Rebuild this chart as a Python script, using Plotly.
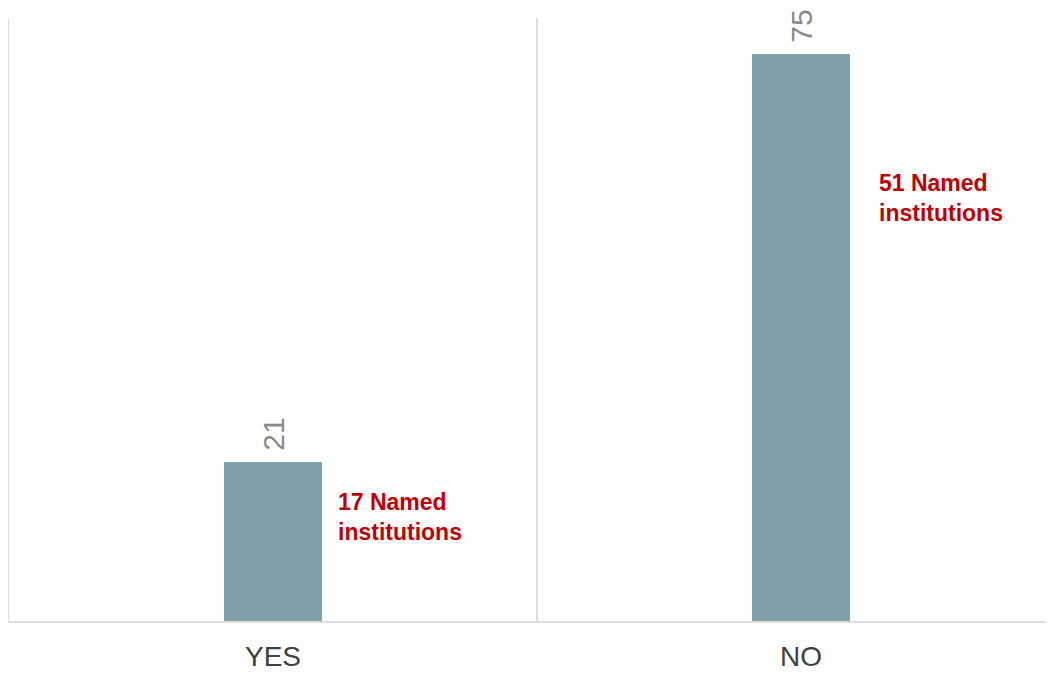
import plotly.graph_objects as go

categories = ["YES", "NO"]
totals = [21, 75]
named = [17, 51]
note_labels = [f"{n} Named<br>institutions" for n in named]

bar_color = "#7FA1AB"
grid_color = "#DDDDDD"

fig = go.Figure()
fig.add_trace(go.Bar(
    x=categories,
    y=totals,
    width=0.184,
    marker=dict(color=bar_color, line=dict(width=0)),
    text=["\u00a0" + str(v) for v in totals],
    textposition="outside",
    textangle=-90,
    textfont=dict(family="Liberation Sans, Arial, sans-serif", size=30, color="#8A8A8A"),
    cliponaxis=False,
    hoverinfo="skip",
))

# red notes beside each bar
note_y = [13.8, 56.0]
note_shift = [63, 76]
for c, lab, yy, xs in zip(categories, note_labels, note_y, note_shift):
    fig.add_annotation(
        x=c, y=yy, text=f"<b>{lab}</b>", showarrow=False,
        xanchor="left", yanchor="middle", align="left", xshift=xs,
        font=dict(family="Liberation Sans, Arial, sans-serif", size=23, color="#C00000"),
    )

# page body has an 8px margin, so the figure is sized/offset to compensate
fig.update_layout(
    width=1046, height=665,
    margin=dict(l=1, r=0, t=10, b=52, autoexpand=False),
    plot_bgcolor="white", paper_bgcolor="white",
    showlegend=False,
    bargap=0,
    xaxis=dict(
        type="category",
        range=[-0.5, 1.479],
        tickson="boundaries",
        automargin=False,
        showgrid=True, gridcolor=grid_color, gridwidth=1.5,
        showline=True, linecolor=grid_color, linewidth=2,
        ticks="", ticklabelstandoff=9,
        tickfont=dict(family="Liberation Sans, Arial, sans-serif", size=28, color="#404040"),
        zeroline=False,
    ),
    yaxis=dict(
        range=[0, 79.8],
        automargin=False,
        showgrid=False, showticklabels=False, zeroline=False,
        showline=True, linecolor=grid_color, linewidth=1.5, ticks="",
    ),
)

fig.write_html("out.html")
